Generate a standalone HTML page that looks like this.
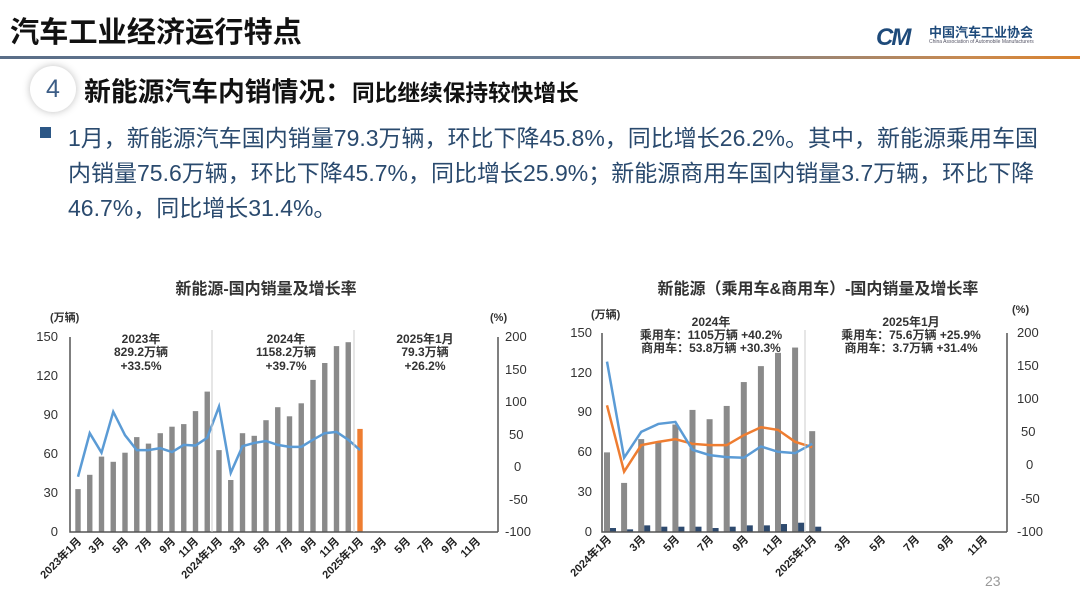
<!DOCTYPE html>
<html><head><meta charset="utf-8"><style>
body{margin:0;width:1080px;height:607px;background:#fff;overflow:hidden;position:relative;font-family:"Liberation Sans","Noto Sans CJK SC",sans-serif}
.abs{position:absolute;white-space:nowrap}
.t1{left:10px;top:9px;font-size:29.2px;font-weight:bold;color:#111}
.hl{left:0;top:56px;width:1080px;height:3px;background:linear-gradient(90deg,#5a6e88,#6d7f95 60%,#c98a50 90%,#d9822e)}
.circ{left:30px;top:66px;width:46px;height:46px;border-radius:50%;background:#fff;box-shadow:0 0 8px rgba(0,0,0,.25);font-size:25px;color:#3c5d86;text-align:center;line-height:46px}
.h2{left:84px;top:70px;font-size:26.8px;font-weight:bold;color:#111}
.h2 span{font-size:22.7px}
.bq{left:40px;top:127px;width:11px;height:11px;background:#2c5786}
.p{left:68px;font-size:23px;color:#2a4a6e}
</style></head><body>
<div class="abs t1">汽车工业经济运行特点</div>
<div class="abs" style="left:876px;top:24px;font-size:24px;font-weight:bold;font-style:italic;color:#1e4a7a;letter-spacing:-2px">CM</div>
<div class="abs" style="left:929px;top:22px;font-size:13px;font-weight:bold;color:#1e4a7a">中国汽车工业协会</div>
<div class="abs" style="left:929px;top:39px;font-size:5px;color:#556">China Association of Automobile Manufacturers</div>
<div class="abs hl"></div>
<div class="abs circ">4</div>
<div class="abs h2">新能源汽车内销情况：<span>同比继续保持较快增长</span></div>
<div class="abs bq"></div>
<div class="abs p" style="top:119px">1月，新能源汽车国内销量79.3万辆，环比下降45.8%，同比增长26.2%。其中，新能源乘用车国</div>
<div class="abs p" style="top:154px">内销量75.6万辆，环比下降45.7%，同比增长25.9%；新能源商用车国内销量3.7万辆，环比下降</div>
<div class="abs p" style="top:189px">46.7%，同比增长31.4%。</div>

<svg class="abs" style="left:0;top:0" width="1080" height="607" font-family="Liberation Sans, Noto Sans CJK SC, sans-serif">
<g font-size="16" font-weight="bold" fill="#333" text-anchor="middle">
<text x="266" y="294">新能源-国内销量及增长率</text>
<text x="818" y="294">新能源（乘用车&amp;商用车）-国内销量及增长率</text>
</g>
<g font-size="11" fill="#333" font-weight="bold">
<text x="50" y="321">(万辆)</text><text x="490" y="321">(%)</text>
<text x="591" y="318">(万辆)</text><text x="1012" y="313">(%)</text>
</g>
<g font-size="13" fill="#333" text-anchor="end">
<text x="58" y="341">150</text><text x="58" y="380">120</text><text x="58" y="419">90</text><text x="58" y="458">60</text><text x="58" y="497">30</text><text x="58" y="536">0</text>
<text x="592" y="337">150</text><text x="592" y="377">120</text><text x="592" y="416">90</text><text x="592" y="456">60</text><text x="592" y="496">30</text><text x="592" y="536">0</text>
</g>
<g font-size="13" fill="#333" text-anchor="start">
<text x="505" y="341">200</text><text x="505" y="374">150</text><text x="505" y="406">100</text><text x="509" y="439">50</text><text x="514" y="471">0</text><text x="509" y="504">-50</text><text x="505" y="536">-100</text>
<text x="1017" y="337">200</text><text x="1017" y="370">150</text><text x="1017" y="403">100</text><text x="1021" y="436">50</text><text x="1026" y="469">0</text><text x="1021" y="503">-50</text><text x="1017" y="536">-100</text>
</g>
<g font-size="12" fill="#333" text-anchor="middle" font-weight="bold">
<text x="141" y="343">2023年</text><text x="141" y="356">829.2万辆</text><text x="141" y="370">+33.5%</text>
<text x="286" y="343">2024年</text><text x="286" y="356">1158.2万辆</text><text x="286" y="370">+39.7%</text>
<text x="425" y="343">2025年1月</text><text x="425" y="356">79.3万辆</text><text x="425" y="370">+26.2%</text>
<text x="711" y="326">2024年</text><text x="711" y="339">乘用车：1105万辆 +40.2%</text><text x="711" y="352">商用车：53.8万辆 +30.3%</text>
<text x="911" y="326">2025年1月</text><text x="911" y="339">乘用车：75.6万辆 +25.9%</text><text x="911" y="352">商用车：3.7万辆 +31.4%</text>
</g>
<g id="g1"></g><g id="g2"></g>
<g stroke="#555" stroke-width="1.5" fill="none">
<path d="M70 337V532H498M498 337V532"/>
<path d="M602 333V532H1007M1007 333V532"/>
</g>
<g stroke="#ccc" stroke-width="1"><path d="M212 330V532M354 330V532M805 330V532"/></g>
<g font-size="11" font-weight="bold" fill="#222" text-anchor="end">
<text transform="translate(82,542) rotate(-45)">2023年1月</text>
<text transform="translate(105,542) rotate(-45)">3月</text>
<text transform="translate(129,542) rotate(-45)">5月</text>
<text transform="translate(152,542) rotate(-45)">7月</text>
<text transform="translate(176,542) rotate(-45)">9月</text>
<text transform="translate(199,542) rotate(-45)">11月</text>
<text transform="translate(223,542) rotate(-45)">2024年1月</text>
<text transform="translate(246,542) rotate(-45)">3月</text>
<text transform="translate(270,542) rotate(-45)">5月</text>
<text transform="translate(293,542) rotate(-45)">7月</text>
<text transform="translate(317,542) rotate(-45)">9月</text>
<text transform="translate(340,542) rotate(-45)">11月</text>
<text transform="translate(364,542) rotate(-45)">2025年1月</text>
<text transform="translate(387,542) rotate(-45)">3月</text>
<text transform="translate(411,542) rotate(-45)">5月</text>
<text transform="translate(434,542) rotate(-45)">7月</text>
<text transform="translate(458,542) rotate(-45)">9月</text>
<text transform="translate(481,542) rotate(-45)">11月</text>
<text transform="translate(612,540) rotate(-45)">2024年1月</text>
<text transform="translate(646,540) rotate(-45)">3月</text>
<text transform="translate(680,540) rotate(-45)">5月</text>
<text transform="translate(714,540) rotate(-45)">7月</text>
<text transform="translate(749,540) rotate(-45)">9月</text>
<text transform="translate(783,540) rotate(-45)">11月</text>
<text transform="translate(817,540) rotate(-45)">2025年1月</text>
<text transform="translate(851,540) rotate(-45)">3月</text>
<text transform="translate(886,540) rotate(-45)">5月</text>
<text transform="translate(920,540) rotate(-45)">7月</text>
<text transform="translate(954,540) rotate(-45)">9月</text>
<text transform="translate(988,540) rotate(-45)">11月</text>
</g>
<text x="985" y="586" font-size="14" fill="#999">23</text>
</svg>
<script>
var NS="http://www.w3.org/2000/svg";
function el(p,t,a){var e=document.createElementNS(NS,t);for(var k in a)e.setAttribute(k,a[k]);p.appendChild(e);return e;}
var g1=document.getElementById('g1'),g2=document.getElementById('g2');
var b1=[33,44,58,54,61,73,68,76,81,83,93,108,63,40,76,74,86,96,89,99,117,130,143,146,79.3];
var l1=[-15,52,22,85,49,26,26,29,23,34,33,45,93,-9,32,37,40,34,31,31,42,52,54,42,26];
var pts=[];
b1.forEach(function(v,i){var x=78+i*11.75;var h=v*1.3;
el(g1,'rect',{x:x-2.7,y:532-h,width:5.4,height:h,fill:i==24?'#ee7d31':'#8a8a8a'});
pts.push(x+','+(467-l1[i]*0.65));});
el(g1,'polyline',{points:pts.join(' '),fill:'none',stroke:'#5b9bd5','stroke-width':2.5});
var b2=[60,37,70,68,81,92,85,95,113,125,135,139,76];
var s2=[3,2,5,4,4,4,3,4,5,5,6,7,4];
var bl=[157,12,51,63,66,24,16,13,12,29,21,19,33];
var or=[91,-9,31,36,40,33,31,31,46,58,54,36,28];
var p1=[],p2=[];
b2.forEach(function(v,i){var x=607+i*17.1;var h=v*1.327;
el(g2,'rect',{x:x-3,y:532-h,width:6,height:h,fill:'#8a8a8a'});
var h2=s2[i]*1.327;el(g2,'rect',{x:x+3,y:532-h2,width:6,height:h2,fill:'#2e4a6e'});
p1.push(x+','+(465.7-bl[i]*0.663));p2.push(x+','+(465.7-or[i]*0.663));});
el(g2,'polyline',{points:p2.join(' '),fill:'none',stroke:'#ee7d31','stroke-width':2.5});
el(g2,'polyline',{points:p1.join(' '),fill:'none',stroke:'#5b9bd5','stroke-width':2.5});
</script>
</body></html>
